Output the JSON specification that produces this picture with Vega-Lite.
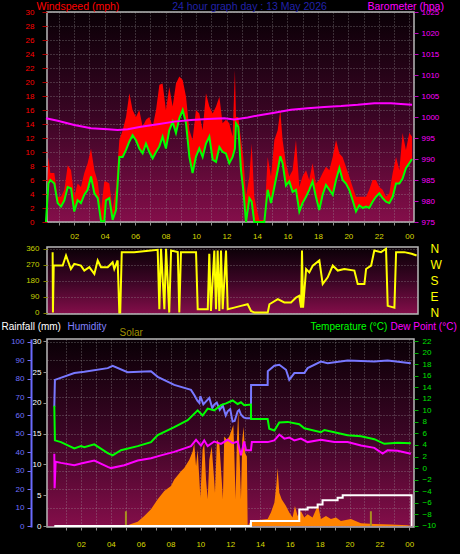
{
  "$schema": "https://vega.github.io/schema/vega-lite/v6.json",
  "background": "#000000",
  "padding": {"left": 0, "top": 0, "right": 3, "bottom": 5},
  "autosize": {"type": "pad"},
  "bounds": "flush",
  "spacing": 25,
  "datasets": {
    "wind": [
      {"h":0.14,"avg":0,"gust":0},{"h":0.3,"avg":5.5,"gust":9.3},{"h":0.43,"avg":6,"gust":7},{"h":0.69,"avg":5.5,"gust":7},{"h":0.91,"avg":2.7,"gust":3.6},{"h":1.13,"avg":2.2,"gust":3.6},{"h":1.35,"avg":3.1,"gust":4.6},{"h":1.57,"avg":5,"gust":8.1},{"h":1.79,"avg":4.8,"gust":7.4},{"h":2,"avg":1.5,"gust":3.6},{"h":2.22,"avg":3.1,"gust":5.5},{"h":2.44,"avg":2.7,"gust":5},{"h":2.66,"avg":3.9,"gust":7},{"h":2.88,"avg":4.6,"gust":8.4},{"h":3.1,"avg":6.5,"gust":10.5},{"h":3.32,"avg":4.1,"gust":7.4},{"h":3.54,"avg":3.4,"gust":5.8},{"h":3.76,"avg":0.1,"gust":1.7},{"h":3.97,"avg":0.1,"gust":5.8},{"h":4.08,"avg":3.1,"gust":5.8},{"h":4.3,"avg":3.4,"gust":5.5},{"h":4.52,"avg":0.3,"gust":1.7},{"h":4.74,"avg":1.7,"gust":5},{"h":4.96,"avg":9.3,"gust":11.7},{"h":5.18,"avg":9.3,"gust":13.1},{"h":5.4,"avg":10.3,"gust":15},{"h":5.62,"avg":11.5,"gust":18.4},{"h":5.83,"avg":12.4,"gust":16},{"h":6.05,"avg":11.7,"gust":15},{"h":6.27,"avg":10.5,"gust":16},{"h":6.49,"avg":9.8,"gust":13.6},{"h":6.71,"avg":11.2,"gust":14.6},{"h":6.93,"avg":10,"gust":15},{"h":7.15,"avg":9.1,"gust":13.6},{"h":7.37,"avg":10,"gust":16},{"h":7.59,"avg":10.8,"gust":19.6},{"h":7.8,"avg":12.2,"gust":19.8},{"h":8.02,"avg":10.5,"gust":16},{"h":8.24,"avg":13.1,"gust":19.3},{"h":8.46,"avg":14.3,"gust":16.5},{"h":8.68,"avg":12.7,"gust":19.8},{"h":8.9,"avg":14.8,"gust":20.8},{"h":9.12,"avg":16,"gust":20.3},{"h":9.34,"avg":14.1,"gust":17.9},{"h":9.56,"avg":9.3,"gust":13.1},{"h":9.77,"avg":7,"gust":11.7},{"h":9.99,"avg":9.3,"gust":16},{"h":10.21,"avg":10.5,"gust":15.5},{"h":10.43,"avg":9.3,"gust":13.1},{"h":10.65,"avg":11.2,"gust":18.4},{"h":10.87,"avg":12.2,"gust":16.5},{"h":11.09,"avg":8.9,"gust":15.5},{"h":11.31,"avg":8.6,"gust":16.5},{"h":11.53,"avg":10.7,"gust":17.9},{"h":11.74,"avg":10,"gust":14.1},{"h":11.96,"avg":9.8,"gust":14.6},{"h":12.18,"avg":8.4,"gust":14.1},{"h":12.4,"avg":9.3,"gust":12.2},{"h":12.55,"avg":10.5,"gust":21.7},{"h":12.62,"avg":14.1,"gust":15},{"h":12.77,"avg":13.6,"gust":15},{"h":12.95,"avg":7.4,"gust":11.7},{"h":13.1,"avg":4.6,"gust":9.3},{"h":13.28,"avg":0,"gust":3.6},{"h":13.5,"avg":3.4,"gust":6.5},{"h":13.65,"avg":2.9,"gust":11.2},{"h":13.82,"avg":0,"gust":3.6},{"h":14.15,"avg":0,"gust":0.3},{"h":14.48,"avg":0,"gust":0.3},{"h":14.7,"avg":4.6,"gust":9.3},{"h":14.92,"avg":2.7,"gust":6.5},{"h":15.14,"avg":5,"gust":11.7},{"h":15.36,"avg":7.4,"gust":13.1},{"h":15.53,"avg":9.4,"gust":16},{"h":15.68,"avg":8.4,"gust":11.7},{"h":15.9,"avg":5.2,"gust":8.4},{"h":16.12,"avg":5.8,"gust":6.5},{"h":16.34,"avg":4.3,"gust":7.4},{"h":16.56,"avg":4.6,"gust":11.7},{"h":16.78,"avg":1.5,"gust":5},{"h":16.99,"avg":2.7,"gust":6.5},{"h":17.22,"avg":3.6,"gust":7.4},{"h":17.43,"avg":4.6,"gust":6},{"h":17.65,"avg":5.8,"gust":8.4},{"h":17.87,"avg":3.6,"gust":5.5},{"h":18.09,"avg":1.7,"gust":6},{"h":18.31,"avg":3.9,"gust":7},{"h":18.53,"avg":5.3,"gust":7.9},{"h":18.75,"avg":4.6,"gust":7.4},{"h":18.97,"avg":3.9,"gust":9.3},{"h":19.19,"avg":6,"gust":11.7},{"h":19.41,"avg":7.7,"gust":9.8},{"h":19.62,"avg":6,"gust":9.3},{"h":19.84,"avg":5.5,"gust":7.9},{"h":20.06,"avg":4.6,"gust":6.5},{"h":20.28,"avg":3.1,"gust":5},{"h":20.5,"avg":1.5,"gust":3.6},{"h":20.72,"avg":2.4,"gust":3.6},{"h":20.94,"avg":2,"gust":3.6},{"h":21.16,"avg":2.2,"gust":3.6},{"h":21.37,"avg":2,"gust":4.6},{"h":21.59,"avg":2.9,"gust":6},{"h":21.81,"avg":3.6,"gust":6},{"h":22.03,"avg":4.1,"gust":5},{"h":22.25,"avg":3.4,"gust":4.6},{"h":22.47,"avg":2.9,"gust":3.6},{"h":22.69,"avg":2.7,"gust":4.1},{"h":22.91,"avg":3.6,"gust":7},{"h":23.13,"avg":5.5,"gust":9.3},{"h":23.35,"avg":5.5,"gust":7.4},{"h":23.56,"avg":6.2,"gust":12.7},{"h":23.78,"avg":7.7,"gust":10.3},{"h":24,"avg":8.4,"gust":12.7},{"h":24.18,"avg":9,"gust":12.2}
    ],
    "baro": [
      {"h":0.14,"p":999.7},{"h":0.91,"p":999.1},{"h":2,"p":998.1},{"h":3.1,"p":997.3},{"h":4.19,"p":997.1},{"h":4.85,"p":996.9},{"h":5.51,"p":997.1},{"h":6.38,"p":997.7},{"h":7.48,"p":998.3},{"h":8.57,"p":998.9},{"h":9.66,"p":999.3},{"h":10.76,"p":999.5},{"h":11.85,"p":999.7},{"h":12.51,"p":999.4},{"h":13.39,"p":999.9},{"h":14.26,"p":1000.5},{"h":15.14,"p":1001},{"h":16.23,"p":1001.7},{"h":17.33,"p":1002.1},{"h":18.42,"p":1002.4},{"h":19.52,"p":1002.6},{"h":20.61,"p":1002.9},{"h":21.71,"p":1003.3},{"h":22.8,"p":1003.3},{"h":23.45,"p":1003.1},{"h":24.18,"p":1002.9}
    ],
    "dir": [
      {"h":0.28,"d":341},{"h":0.3,"d":0},{"h":0.35,"d":265},{"h":0.94,"d":265},{"h":1.16,"d":322},{"h":1.48,"d":246},{"h":1.7,"d":275},{"h":2.14,"d":265},{"h":2.36,"d":237},{"h":2.69,"d":256},{"h":3.02,"d":218},{"h":3.24,"d":294},{"h":3.46,"d":256},{"h":3.9,"d":256},{"h":4.22,"d":284},{"h":4.33,"d":246},{"h":4.55,"d":294},{"h":4.66,"d":0},{"h":4.72,"d":0},{"h":4.82,"d":341},{"h":5.64,"d":341},{"h":6.74,"d":350},{"h":7.18,"d":354},{"h":7.29,"d":19},{"h":7.4,"d":360},{"h":7.62,"d":19},{"h":7.73,"d":360},{"h":7.94,"d":0},{"h":8.06,"d":350},{"h":8.5,"d":341},{"h":8.6,"d":0},{"h":8.71,"d":341},{"h":9.48,"d":341},{"h":9.7,"d":341},{"h":9.81,"d":19},{"h":10.47,"d":19},{"h":10.57,"d":332},{"h":10.68,"d":9},{"h":10.9,"d":350},{"h":11.01,"d":19},{"h":11.12,"d":350},{"h":11.23,"d":9},{"h":11.34,"d":350},{"h":11.45,"d":19},{"h":11.67,"d":350},{"h":11.78,"d":19},{"h":12.21,"d":28},{"h":12.65,"d":38},{"h":13.09,"d":47},{"h":13.31,"d":9},{"h":13.53,"d":0},{"h":14.41,"d":0},{"h":14.52,"d":47},{"h":15.07,"d":76},{"h":15.5,"d":57},{"h":15.94,"d":57},{"h":16.27,"d":85},{"h":16.48,"d":95},{"h":16.6,"d":28},{"h":16.66,"d":350},{"h":16.73,"d":28},{"h":16.93,"d":246},{"h":17.14,"d":227},{"h":17.37,"d":265},{"h":17.8,"d":294},{"h":18.02,"d":161},{"h":18.35,"d":199},{"h":18.68,"d":265},{"h":19.01,"d":237},{"h":19.44,"d":246},{"h":20.1,"d":237},{"h":20.32,"d":161},{"h":20.76,"d":161},{"h":20.87,"d":246},{"h":21.2,"d":265},{"h":21.41,"d":350},{"h":21.85,"d":341},{"h":22.18,"d":360},{"h":22.29,"d":38},{"h":22.73,"d":28},{"h":22.84,"d":341},{"h":23.38,"d":341},{"h":23.86,"d":332},{"h":24.19,"d":322}
    ],
    "hum": [
      {"h":0.21,"v":64.8},{"h":0.25,"v":79.3},{"h":1.55,"v":83},{"h":2.22,"v":83.7},{"h":3.79,"v":85.7},{"h":4.12,"v":86.9},{"h":5.12,"v":83.5},{"h":6.69,"v":84},{"h":7.14,"v":81},{"h":8.25,"v":76.6},{"h":9.37,"v":73.9},{"h":9.6,"v":71},{"h":9.8,"v":68},{"h":9.93,"v":66.8},{"h":10,"v":70.5},{"h":10.2,"v":66},{"h":10.49,"v":68.6},{"h":10.6,"v":69.5},{"h":10.8,"v":64},{"h":10.93,"v":65.9},{"h":11.1,"v":67},{"h":11.3,"v":63},{"h":11.5,"v":65.5},{"h":11.7,"v":60},{"h":11.83,"v":62.3},{"h":12,"v":63.5},{"h":12.16,"v":56.7},{"h":12.3,"v":57},{"h":12.5,"v":62.3},{"h":12.6,"v":63},{"h":12.72,"v":60.5},{"h":12.9,"v":59},{"h":13.06,"v":58.5},{"h":13.39,"v":58.5},{"h":13.4,"v":76.6},{"h":14.51,"v":76.6},{"h":14.52,"v":84},{"h":14.96,"v":87},{"h":15.29,"v":87.5},{"h":15.74,"v":84.8},{"h":15.96,"v":79.3},{"h":16.3,"v":83},{"h":16.97,"v":83},{"h":17.19,"v":85.7},{"h":18.08,"v":89.3},{"h":18.53,"v":88.4},{"h":19.87,"v":89.8},{"h":21.66,"v":89.3},{"h":22.55,"v":89.8},{"h":24.11,"v":88.4}
    ],
    "temp": [
      {"h":0.21,"v":10.8},{"h":0.25,"v":4.8},{"h":0.66,"v":4.5},{"h":1.55,"v":3.4},{"h":2,"v":3.8},{"h":2.22,"v":3.6},{"h":2.89,"v":4.1},{"h":3.79,"v":2.6},{"h":4.12,"v":2.2},{"h":4.68,"v":3.1},{"h":5.8,"v":3.8},{"h":6.69,"v":4.5},{"h":7.14,"v":5.7},{"h":8.25,"v":7.1},{"h":9.15,"v":8.3},{"h":9.82,"v":10},{"h":10.15,"v":9.1},{"h":10.49,"v":10.3},{"h":10.93,"v":10},{"h":11.38,"v":10.9},{"h":11.72,"v":11.2},{"h":12.16,"v":11.7},{"h":12.5,"v":11.1},{"h":12.72,"v":11.4},{"h":12.94,"v":10.9},{"h":13.39,"v":11},{"h":13.4,"v":8.5},{"h":14.51,"v":8.5},{"h":14.62,"v":6.8},{"h":14.96,"v":6.5},{"h":15.29,"v":7.9},{"h":15.85,"v":8},{"h":16.63,"v":7.6},{"h":16.97,"v":6.9},{"h":18.08,"v":6.2},{"h":18.31,"v":6.6},{"h":18.98,"v":6.2},{"h":19.87,"v":5.7},{"h":20.77,"v":5.5},{"h":21.66,"v":5},{"h":22.33,"v":4.2},{"h":23.22,"v":4.4},{"h":24.11,"v":4.3}
    ],
    "dew": [
      {"h":0.21,"v":2.5},{"h":0.23,"v":-3.5},{"h":0.3,"v":1.1},{"h":0.66,"v":0.9},{"h":1.55,"v":0.5},{"h":2,"v":0.8},{"h":2.89,"v":1.3},{"h":3.79,"v":0.2},{"h":4.01,"v":0},{"h":4.9,"v":0.5},{"h":5.8,"v":1.3},{"h":6.69,"v":1.7},{"h":7.36,"v":2.2},{"h":8.25,"v":2.8},{"h":9.37,"v":3.8},{"h":9.71,"v":4.9},{"h":10.04,"v":3.9},{"h":10.26,"v":4.8},{"h":10.49,"v":3.8},{"h":10.93,"v":4.6},{"h":11.38,"v":4.2},{"h":11.83,"v":4.9},{"h":12.16,"v":4.3},{"h":12.5,"v":4.6},{"h":12.72,"v":2.2},{"h":12.94,"v":4.6},{"h":13.06,"v":3.1},{"h":13.39,"v":3.1},{"h":13.45,"v":4.5},{"h":14.51,"v":4.5},{"h":14.96,"v":4.8},{"h":15.29,"v":5.8},{"h":15.63,"v":5.1},{"h":15.96,"v":5.3},{"h":16.3,"v":4.8},{"h":16.74,"v":5.1},{"h":17.19,"v":4.5},{"h":18.08,"v":4.9},{"h":18.98,"v":4.5},{"h":19.87,"v":4.5},{"h":20.77,"v":3.9},{"h":21.66,"v":3.5},{"h":22.22,"v":2.5},{"h":22.55,"v":3.1},{"h":23.22,"v":3},{"h":24.11,"v":2.5}
    ],
    "solar": [
      {"h":0.21,"v":0},{"h":5.01,"v":0},{"h":5.35,"v":11},{"h":5.8,"v":23},{"h":6.24,"v":55},{"h":6.69,"v":91},{"h":7.14,"v":145},{"h":7.58,"v":190},{"h":8.03,"v":217},{"h":8.25,"v":253},{"h":8.7,"v":298},{"h":8.92,"v":315},{"h":9.26,"v":360},{"h":9.48,"v":405},{"h":9.59,"v":450},{"h":9.71,"v":324},{"h":9.82,"v":414},{"h":10,"v":154},{"h":10.15,"v":414},{"h":10.26,"v":450},{"h":10.38,"v":253},{"h":10.49,"v":145},{"h":10.6,"v":360},{"h":10.76,"v":432},{"h":10.89,"v":289},{"h":10.98,"v":181},{"h":11.11,"v":468},{"h":11.27,"v":450},{"h":11.43,"v":253},{"h":11.51,"v":145},{"h":11.6,"v":486},{"h":11.78,"v":468},{"h":11.94,"v":486},{"h":12.1,"v":522},{"h":12.21,"v":549},{"h":12.27,"v":414},{"h":12.36,"v":145},{"h":12.45,"v":468},{"h":12.54,"v":623},{"h":12.63,"v":378},{"h":12.72,"v":145},{"h":12.81,"v":468},{"h":12.9,"v":539},{"h":12.99,"v":396},{"h":13.12,"v":378},{"h":13.17,"v":0},{"h":13.39,"v":28},{"h":14.51,"v":38},{"h":14.73,"v":73},{"h":14.96,"v":127},{"h":15.09,"v":217},{"h":15.18,"v":315},{"h":15.29,"v":181},{"h":15.45,"v":145},{"h":15.74,"v":109},{"h":15.96,"v":73},{"h":16.18,"v":47},{"h":16.34,"v":109},{"h":16.52,"v":55},{"h":16.74,"v":82},{"h":16.97,"v":47},{"h":17.19,"v":64},{"h":17.52,"v":47},{"h":17.81,"v":100},{"h":17.9,"v":109},{"h":18.08,"v":38},{"h":18.42,"v":55},{"h":18.75,"v":38},{"h":19.09,"v":47},{"h":19.42,"v":28},{"h":20.09,"v":38},{"h":20.76,"v":16},{"h":21.66,"v":11},{"h":22.77,"v":9},{"h":23.89,"v":4},{"h":24.16,"v":0}
    ],
    "rain": [
      {"h":0.21,"v":0},{"h":13.39,"v":0.8},{"h":16.63,"v":2.7},{"h":17.19,"v":3},{"h":17.86,"v":3.5},{"h":18.19,"v":4.2},{"h":19.2,"v":4.6},{"h":19.54,"v":5},{"h":24.11,"v":5},{"h":24.16,"v":0}
    ],
    "sun": [
      {"h":5.01,"lo":0,"hi":2.4},{"h":21.43,"lo":0,"hi":2.4}
    ]
  },
  "vconcat": [
    {
      "width": 367,
      "height": 210,
      "encoding": {
        "x": {"field": "h", "type": "quantitative",
          "scale": {"domain": [0.21, 24.31], "nice": false, "zero": false},
          "axis": {"values": [1,2,3,4,5,6,7,8,9,10,11,12,13,14,15,16,17,18,19,20,21,22,23,24],
            "labelExpr": "datum.value % 2 == 0 ? (datum.value == 24 ? '00' : (datum.value < 10 ? '0' + datum.value : '' + datum.value)) : ''",
            "grid": true, "tickSize": 3, "tickColor": "#909090", "labelColor": "#d8d800", "labelPadding": 7,
            "title": "24 hour graph day : 13 May 2026", "titleColor": "#2222aa", "titleFontSize": 10.5, "titleX": 202, "titleY": -216,
            "titleAlign": "center", "titleBaseline": "middle", "titleAngle": 0}}
      },
      "layer": [
        {"data": {"name": "wind"},
         "mark": {"type": "area", "color": "#ff0000"},
         "encoding": {
           "y": {"field": "gust", "type": "quantitative", "scale": {"domain": [0, 30], "nice": false, "zero": false},
             "axis": {"orient": "left", "values": [0,2,4,6,8,10,12,14,16,18,20,22,24,26,28,30], "grid": true,
               "labelColor": "#ff0000", "tickColor": "#b00000", "tickSize": 5, "labelPadding": 8,
               "title": "Windspeed (mph)", "titleColor": "#ff0000", "titleFontSize": 10.5, "titleAngle": 0, "titleAlign": "left",
               "titleBaseline": "middle", "titleX": -11, "titleY": -6}},
           "y2": {"field": "avg"}
         }},
        {"data": {"name": "wind"},
         "mark": {"type": "line", "color": "#00ff00", "strokeWidth": 2},
         "encoding": {
           "y": {"field": "avg", "type": "quantitative", "scale": {"domain": [0, 30], "nice": false, "zero": false}, "axis": null}
         }},
        {"data": {"name": "baro"},
         "mark": {"type": "line", "color": "#ff00ff", "strokeWidth": 2},
         "encoding": {
           "y": {"field": "p", "type": "quantitative", "scale": {"domain": [975, 1025], "nice": false, "zero": false},
             "axis": {"orient": "right", "values": [975,980,985,990,995,1000,1005,1010,1015,1020,1025], "format": "d", "grid": false,
               "labelColor": "#ff00ff", "tickColor": "#c000c0", "tickSize": 4, "labelPadding": 3,
               "title": "Barometer (hpa)", "titleColor": "#ff00ff", "titleFontSize": 10.5, "titleAngle": 0, "titleAlign": "left",
               "titleBaseline": "middle", "titleX": -47, "titleY": -6}}
         }}
      ],
      "resolve": {"scale": {"y": "independent"}}
    },
    {
      "width": 371,
      "height": 67,
      "data": {"name": "dir"},
      "encoding": {
        "x": {"field": "h", "type": "quantitative", "scale": {"domain": [-0.09, 24.28], "nice": false, "zero": false}, "axis": null}
      },
      "layer": [
        {"mark": {"type": "line", "color": "#ffff00", "strokeWidth": 2},
         "encoding": {
           "y": {"field": "d", "type": "quantitative", "scale": {"domain": [-8, 370], "nice": false, "zero": false},
             "axis": {"orient": "left", "values": [0, 90, 180, 270, 360], "grid": true, "labelColor": "#c8d000",
               "tickColor": "#808000", "tickSize": 4, "labelPadding": 4, "title": null}}
         }},
        {"mark": {"type": "line", "opacity": 0},
         "encoding": {
           "y": {"field": "d", "type": "quantitative",
             "axis": {"orient": "right", "values": [0, 90, 180, 270, 360],
               "labelExpr": "datum.value == 360 || datum.value == 0 ? 'N' : (datum.value == 270 ? 'W' : (datum.value == 180 ? 'S' : 'E'))",
               "labelColor": "#ffff00", "labelFontSize": 12, "ticks": false, "labelPadding": 12, "grid": false, "title": null}}
         }}
      ],
      "resolve": {"axis": {"y": "independent"}}
    },
    {
      "width": 367,
      "height": 188,
      "encoding": {
        "x": {"field": "h", "type": "quantitative",
          "scale": {"domain": [-0.28, 24.32], "nice": false, "zero": false},
          "axis": {"values": [1,2,3,4,5,6,7,8,9,10,11,12,13,14,15,16,17,18,19,20,21,22,23,24],
            "labelExpr": "datum.value % 2 == 0 ? (datum.value == 24 ? '00' : (datum.value < 10 ? '0' + datum.value : '' + datum.value)) : ''",
            "grid": true, "tickSize": 3, "tickColor": "#909090", "labelColor": "#d8d800", "labelPadding": 10, "title": null}}
      },
      "layer": [
        {"data": {"name": "solar"},
         "mark": {"type": "area", "color": "#ff8400"},
         "encoding": {
           "y": {"field": "v", "type": "quantitative", "scale": {"domain": [-5, 1015], "nice": false, "zero": false},
             "axis": {"orient": "left", "labels": false, "ticks": false, "domain": false, "grid": true,
               "values": [0,100,200,300,400,500,600,700,800,900,1000],
               "title": "Solar", "titleColor": "#a09000", "titleAngle": 0, "titleAlign": "left", "titleBaseline": "middle",
               "titleX": 72, "titleY": -7}}
         }},
        {"data": {"name": "sun"},
         "mark": {"type": "rule", "color": "#a89020", "strokeWidth": 2},
         "encoding": {
           "y": {"field": "lo", "type": "quantitative", "scale": {"domain": [-0.16, 30.4], "nice": false, "zero": false}, "axis": null},
           "y2": {"field": "hi"}
         }},
        {"data": {"name": "hum"},
         "mark": {"type": "line", "color": "#7878ff", "strokeWidth": 2},
         "encoding": {
           "y": {"field": "v", "type": "quantitative", "scale": {"domain": [-0.5, 101.5], "nice": false, "zero": false},
             "axis": {"orient": "left", "offset": 16, "values": [0,10,20,30,40,50,60,70,80,90,100], "grid": false,
               "labelColor": "#7070ff", "tickColor": "#7070ff", "tickSize": 4, "labelPadding": 3,
               "domain": true, "domainColor": "#6a6aff", "domainWidth": 2,
               "title": "Humidity", "titleColor": "#8080ff", "titleAngle": 0, "titleAlign": "left", "titleBaseline": "middle",
               "titleX": 36, "titleY": -13}}
         }},
        {"data": {"name": "temp"},
         "mark": {"type": "line", "color": "#00ff00", "strokeWidth": 2},
         "encoding": {
           "y": {"field": "v", "type": "quantitative", "scale": {"domain": [-10.2, 22.35], "nice": false, "zero": false},
             "axis": {"orient": "right", "values": [-10,-8,-6,-4,-2,0,2,4,6,8,10,12,14,16,18,20,22], "grid": false,
               "labelColor": "#00e000", "tickColor": "#00b000", "tickSize": 4, "labelPadding": 4,
               "title": "Temperature (°C)", "titleColor": "#00ff00", "titleAngle": 0, "titleAlign": "left", "titleBaseline": "middle",
               "titleX": -104, "titleY": -13}}
         }},
        {"data": {"name": "dew"},
         "mark": {"type": "line", "color": "#ff00ff", "strokeWidth": 2},
         "encoding": {
           "y": {"field": "v", "type": "quantitative", "scale": {"domain": [-10.2, 22.35], "nice": false, "zero": false},
             "axis": {"orient": "right", "labels": false, "ticks": false, "domain": false, "grid": false,
               "title": "Dew Point (°C)", "titleColor": "#ff00ff", "titleAngle": 0, "titleAlign": "left", "titleBaseline": "middle",
               "titleX": -24, "titleY": -13}}
         }},
        {"data": {"name": "rain"},
         "mark": {"type": "line", "color": "#ffffff", "strokeWidth": 2, "interpolate": "step-after"},
         "encoding": {
           "y": {"field": "v", "type": "quantitative", "scale": {"domain": [-0.16, 30.4], "nice": false, "zero": false},
             "axis": {"orient": "left", "values": [0,5,10,15,20,25,30], "grid": false,
               "labelColor": "#ffffff", "tickColor": "#909090", "tickSize": 4, "labelPadding": 2,
               "title": "Rainfall (mm)", "titleColor": "#ffffff", "titleAngle": 0, "titleAlign": "left", "titleBaseline": "middle",
               "titleX": -46, "titleY": -13}}
         }}
      ],
      "resolve": {"scale": {"y": "independent"}}
    }
  ],
  "config": {
    "view": {
      "stroke": "#b8b8b8",
      "strokeWidth": 1.5,
      "fill": {"gradient": "linear", "x1": 0, "y1": 0, "x2": 0, "y2": 1,
        "stops": [{"offset": 0, "color": "#0a0006"}, {"offset": 0.5, "color": "#3a0524"}, {"offset": 1, "color": "#840e4a"}]}
    },
    "axis": {
      "labelFont": "Liberation Sans",
      "labelFontSize": 8,
      "labelOverlap": false,
      "labelFlush": false,
      "titleFont": "Liberation Sans",
      "titleFontSize": 10,
      "titleFontWeight": "normal",
      "titlePadding": 0,
      "domain": false,
      "gridColor": "#a8a8a8",
      "gridDash": [1, 2],
      "gridOpacity": 0.55,
      "gridWidth": 1
    }
  }
}
